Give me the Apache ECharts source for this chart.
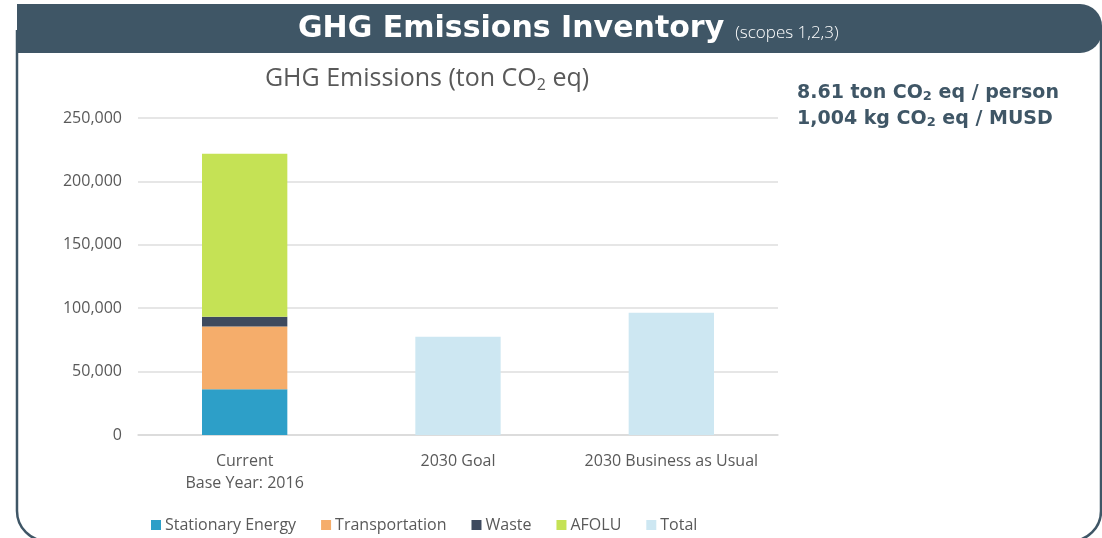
<!DOCTYPE html>
<html>
<head>
<meta charset="utf-8">
<script src="https://cdn.jsdelivr.net/npm/echarts@6/dist/echarts.min.js"></script>
<style>
  html, body { margin: 0; padding: 0; background: #fff; }
  #chart { width: 1102px; height: 538px; }
</style>
</head>
<body>
<div id="chart"></div>
<script>
// categories and values
const categories = ['Current\nBase Year: 2016', '2030 Goal', '2030 Business as Usual']
const stationaryEnergy = [36000, '-', '-']
const transportation = [49500, '-', '-']
const waste = [7800, '-', '-']
const afolu = [128500, '-', '-']
const total = ['-', 77500, 96500]
const yTicks = [0, 50000, 100000, 150000, 200000, 250000]

const seriesDefs = [
    { name: 'Stationary Energy', data: stationaryEnergy, color: '#2d9fc8' },
    { name: 'Transportation', data: transportation, color: '#f5ad6b' },
    { name: 'Waste', data: waste, color: '#3e4a5e' },
    { name: 'AFOLU', data: afolu, color: '#c5e255' },
    { name: 'Total', data: total, color: '#cde7f2' }
]

const slate = '#3f5666'
const gray = '#595959'

const chart = echarts.init(document.getElementById('chart'), null, { renderer: 'canvas' })

const option = {
    animation: false,
    backgroundColor: '#fff',
    textStyle: { fontFamily: 'Open Sans' },
    graphic: [
        {
            type: 'rect',
            shape: { x: 17, y: 30, width: 1084, height: 511, r: [0, 0, 30, 30] },
            style: { fill: 'none', stroke: slate, lineWidth: 2.5 },
            z: 0
        },
        {
            type: 'rect',
            shape: { x: 17, y: 4, width: 1085, height: 49, r: [0, 22, 22, 0] },
            style: { fill: slate },
            z: 1
        },
        {
            type: 'text',
            style: {
                x: 298, y: 29,
                verticalAlign: 'middle',
                text: '{b|GHG Emissions Inventory}{s|(scopes 1,2,3)}',
                rich: {
                    b: { fontFamily: 'DejaVu Sans', fontWeight: 'bold', fontSize: 30, fill: '#fff' },
                    s: { fontFamily: 'Open Sans', fontWeight: 300, fontSize: 17, fill: '#fff', padding: [9, 0, 0, 11] }
                }
            },
            z: 2
        },
        {
            type: 'text',
            left: 797, top: 80,
            style: {
                text: '8.61 ton CO{sub|2} eq / person\n1,004 kg CO{sub|2} eq / MUSD',
                fontFamily: 'DejaVu Sans', fontWeight: 'bold', fontSize: 19, fill: slate, lineHeight: 26,
                rich: {
                    sub: { fontFamily: 'DejaVu Sans', fontWeight: 'bold', fontSize: 13, fill: slate, padding: [8, 0, 0, 0] }
                }
            },
            z: 2
        }
    ],
    title: {
        text: 'GHG Emissions (ton CO{sub|2} eq)',
        left: 422,
        textAlign: 'center',
        top: 59,
        textStyle: {
            fontFamily: 'Open Sans', fontWeight: 'normal', fontSize: 25, color: gray,
            rich: {
                sub: { fontFamily: 'Open Sans', fontSize: 16, color: gray, padding: [13, 0, 0, 0] }
            }
        }
    },
    legend: {
        left: 146,
        top: 512,
        icon: 'rect',
        itemWidth: 10,
        itemHeight: 10,
        itemGap: 25,
        textStyle: { fontFamily: 'Open Sans', fontSize: 16, color: gray, padding: [0, 0, 0, -1] },
        data: seriesDefs.map(s => s.name)
    },
    grid: {
        left: 138,
        right: 324,
        top: 118,
        bottom: 103,
        containLabel: false
    },
    xAxis: {
        type: 'category',
        data: categories,
        axisLine: { lineStyle: { color: '#d9d9d9', width: 1.5 } },
        axisTick: { show: false },
        axisLabel: {
            interval: 0,
            color: gray, fontFamily: 'Open Sans', fontSize: 16, lineHeight: 22, margin: 15
        }
    },
    yAxis: {
        type: 'value',
        min: yTicks[0],
        max: yTicks[yTicks.length - 1],
        interval: 50000,
        axisLine: { show: false },
        axisTick: { show: false },
        splitLine: { lineStyle: { color: '#dedede', width: 1.5 } },
        axisLabel: {
            color: gray, fontFamily: 'Open Sans', fontSize: 16, margin: 16,
            formatter: v => v.toLocaleString('en-US')
        }
    },
    series: seriesDefs.map(s => ({
        name: s.name,
        type: 'bar',
        stack: 'all',
        barWidth: '40%',
        data: s.data,
        itemStyle: { color: s.color }
    }))
}

chart.setOption(option)
</script>
</body>
</html>
